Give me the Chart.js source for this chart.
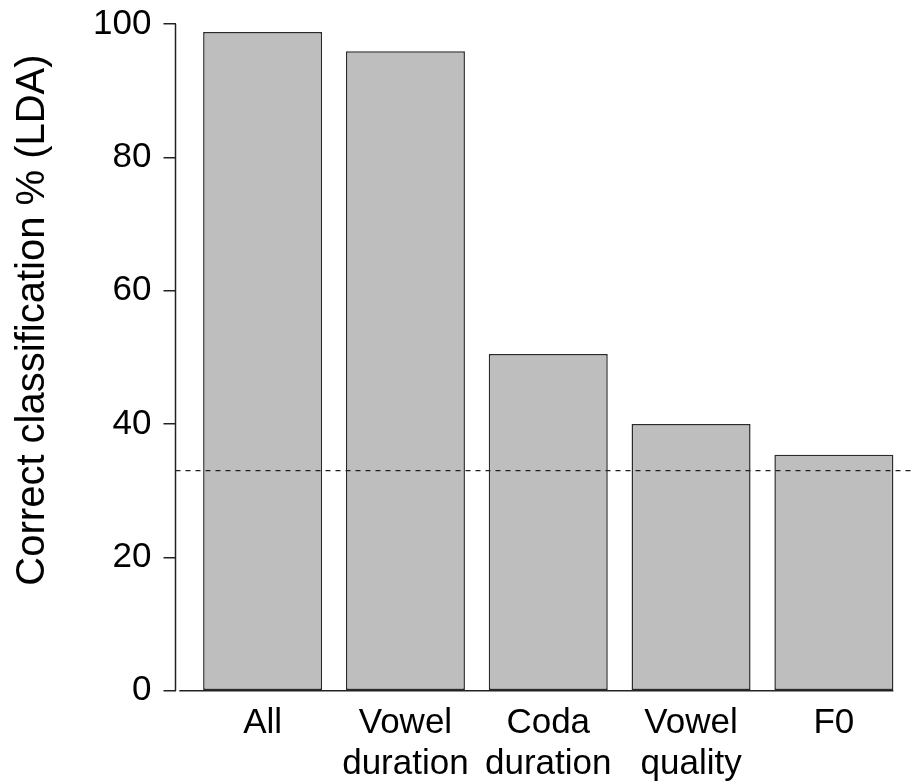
<!DOCTYPE html>
<html>
<head>
<meta charset="utf-8">
<script src="https://cdn.jsdelivr.net/npm/chart.js@4/dist/chart.umd.min.js"></script>
<style>
  html, body { margin: 0; padding: 0; overflow: hidden; background: #fff; }
  #wrap { position: absolute; left: 0; top: 0; }
</style>
</head>
<body>
<div id="wrap"><canvas id="chart" width="921" height="784"></canvas></div>
<script>
// Data
const categories = [['All'], ['Vowel', 'duration'], ['Coda', 'duration'], ['Vowel', 'quality'], ['F0']];
const percentCorrect = [98.8, 95.9, 50.5, 40.0, 35.4];
const chanceLevel = 33;
const yTicks = [0, 20, 40, 60, 80, 100];
const yTitle = 'Correct classification % (LDA)';

// R barplot layout: width 1, space 0.2
const barX = i => 0.7 + 1.2 * i;
const FONT = 'Liberation Sans, Arial, sans-serif';

const noPad = s => { s.paddingTop = 0; s.paddingBottom = 0; s.paddingLeft = 0; s.paddingRight = 0; };

const extras = {
    id: 'extras',
    afterDatasetsDraw(chart) {
        const ctx = chart.ctx;
        const x = chart.scales.x, y = chart.scales.y;
        const area = chart.chartArea;
        ctx.save();
        ctx.strokeStyle = '#222';
        ctx.lineWidth = 1.5;
        // y axis line (0..100 only)
        ctx.beginPath();
        ctx.moveTo(area.left, y.getPixelForValue(yTicks[0]));
        ctx.lineTo(area.left, y.getPixelForValue(yTicks[yTicks.length - 1]));
        ctx.stroke();
        // bar baseline
        ctx.beginPath();
        ctx.moveTo(x.getPixelForValue(0), y.getPixelForValue(0));
        ctx.lineTo(x.getPixelForValue(1.2 * categories.length), y.getPixelForValue(0));
        ctx.stroke();
        // chance level
        ctx.setLineDash([5, 5]);
        ctx.lineWidth = 1.2;
        ctx.beginPath();
        ctx.moveTo(area.left, y.getPixelForValue(chanceLevel));
        ctx.lineTo(area.right, y.getPixelForValue(chanceLevel));
        ctx.stroke();
        ctx.setLineDash([]);
        // y title
        ctx.fillStyle = '#000';
        ctx.font = '40px ' + FONT;
        ctx.textAlign = 'center';
        ctx.textBaseline = 'middle';
        ctx.translate(33, 320);
        ctx.rotate(-Math.PI / 2);
        ctx.fillText(yTitle, 0, 0);
        ctx.restore();
    }
};

new Chart(document.getElementById('chart').getContext('2d'), {
    type: 'bar',
    data: {
        datasets: [{
            data: percentCorrect.map((v, i) => ({ x: barX(i), y: v })),
            backgroundColor: '#bebebe',
            borderColor: '#2a2a2a',
            borderWidth: 1.5,
            borderSkipped: false,
            categoryPercentage: 1,
            barPercentage: 1 / 1.2
        }]
    },
    options: {
        responsive: false,
        animation: false,
        layout: { padding: 0 },
        plugins: { legend: { display: false }, tooltip: { enabled: false } },
        scales: {
            x: {
                type: 'linear',
                position: 'bottom',
                offset: false,
                min: -0.032,
                max: 6.232,
                grid: { display: false, offset: false },
                border: { display: false },
                afterBuildTicks: s => { s.ticks = categories.map((c, i) => ({ value: barX(i) })); },
                afterFit: s => { s.height = 784 - 690.7; noPad(s); },
                ticks: {
                    autoSkip: false,
                    maxRotation: 0,
                    padding: 4,
                    color: '#000',
                    font: { family: FONT, size: 35, lineHeight: 1.17 },
                    callback: (v, i) => categories[i]
                }
            },
            y: {
                type: 'linear',
                min: 0,
                max: 103.6,
                grid: { drawOnChartArea: false, drawTicks: true, tickLength: 12, color: '#222', lineWidth: 1.5 },
                border: { display: false },
                afterBuildTicks: s => { s.ticks = yTicks.map(v => ({ value: v })); },
                afterFit: s => { s.width = 175.5; noPad(s); },
                ticks: {
                    padding: 12,
                    color: '#000',
                    font: { family: FONT, size: 35 }
                }
            }
        }
    },
    plugins: [extras]
});
</script>
</body>
</html>
